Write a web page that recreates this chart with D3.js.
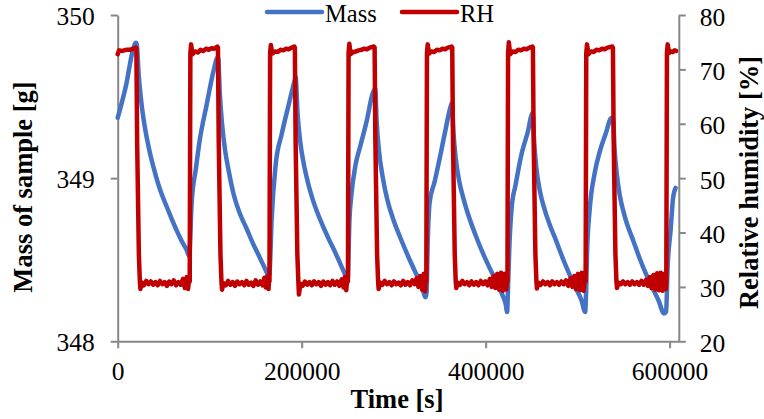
<!DOCTYPE html>
<html><head><meta charset="utf-8">
<script src="https://cdn.jsdelivr.net/npm/d3@7"></script>
<style>body{margin:0;background:#fff} svg{display:block}</style>
</head><body><svg id="c" width="764" height="419"></svg>
<script>
// ---------- data (time [s], value) ----------
const massPoints = [
[0,349.37],[9500,349.58],[16300,349.78],[19800,349.83],
[20700,349.82],[23000,349.62],[26000,349.45],[29300,349.32],[34800,349.16],[40200,349.04],[46000,348.93],[52200,348.84],
[58000,348.76],[64100,348.68],[70000,348.61],[75000,348.56],[78000,348.52],
[78300,348.55],[80400,348.85],[84800,349.05],[89100,349.23],[96700,349.45],[104300,349.66],[108700,349.74],
[109200,349.74],[111000,349.52],[113500,349.33],[116500,349.18],[120500,349.05],[126100,348.90],[133000,348.78],[140200,348.69],
[147000,348.60],[152200,348.54],[159800,348.45],[164700,348.40],
[165200,348.43],[167400,348.75],[171700,349.08],[178300,349.27],[185900,349.45],[192400,349.60],
[193400,349.62],[195500,349.40],[198500,349.22],[202200,349.09],[206500,348.98],[212000,348.87],[222800,348.71],[230000,348.62],
[236900,348.54],[245600,348.43],[250000,348.38],
[252000,348.75],[254100,348.90],[258500,349.08],[263900,349.20],[270700,349.35],[277200,349.52],
[279900,349.55],[281500,349.35],[284000,349.17],[288000,349.01],[293000,348.87],[300000,348.74],[307600,348.63],[317400,348.50],
[323900,348.42],[330400,348.34],[334800,348.27],
[335800,348.30],[337000,348.60],[339100,348.85],[344600,348.98],[351100,349.15],[356500,349.30],[362500,349.45],
[363300,349.46],[365000,349.28],[367500,349.12],[371000,348.99],[376100,348.87],[382000,348.76],[389100,348.65],[397000,348.54],
[404300,348.45],[413000,348.35],[418500,348.28],[421700,348.23],[423400,348.18],
[424200,348.30],[425600,348.55],[428300,348.82],[432600,348.96],[439100,349.15],[445700,349.28],
[451100,349.40],[452800,349.22],[455000,349.07],[459000,348.92],[464000,348.81],[470000,348.71],[475000,348.64],[485900,348.48],
[496700,348.34],[504300,348.25],[508200,348.18],
[509200,348.30],[510300,348.55],[513000,348.80],[518500,349.03],[523900,349.16],[530400,349.27],[537000,349.37],
[538600,349.36],[540200,349.18],[542500,349.03],[546000,348.89],[551000,348.77],[560900,348.61],[568000,348.50],[576100,348.39],
[588000,348.25],[594000,348.17],
[596200,348.18],[597800,348.45],[601100,348.68],[603800,348.88],[606500,348.94]
];
const rhPoints = [
[0,72.8],[1500,73.5],[5000,73.4],[9000,73.6],[13000,73.6],[17000,73.8],[20000,74.0],
[20300,73.8],[21100,57],[23000,36],[24100,31.0],[24700,29.6],[26200,30.8],
[28500,30.3],[31000,31.1],[33500,30.5],[36000,31.0],[38500,30.4],[41000,30.9],[43500,30.3],[46000,31.1],[48500,30.5],[51000,30.9],
[53500,30.2],[56000,31.0],[58500,30.5],[61000,31.2],[63500,30.3],[66000,30.9],[68500,30.4],[71000,31.5],[73000,29.8],[75000,31.8],
[76500,29.6],[77600,31.6],
[78300,31.0],[79000,73.0],[79800,74.6],[81300,72.8],[84000,73.3],[87000,73.1],[90000,73.6],[93000,73.4],[96000,73.8],[99000,73.6],
[102000,73.9],[105000,73.8],[108300,74.2],[109000,74.0],
[109800,57],[111700,36],[112800,31.0],[113400,29.5],[115000,30.7],[117500,30.3],[120000,31.1],[122500,30.4],[125000,30.9],[127500,30.2],
[130000,31.0],[132500,30.5],[135000,30.9],[137500,30.3],[140000,31.1],[142500,30.4],[145000,30.8],[147500,30.2],[150000,31.2],[152500,30.4],
[155000,31.0],[157500,30.3],[159500,31.7],[161000,29.9],[162500,31.9],[164000,29.6],[164600,31.5],
[165000,31.0],[165700,73.0],[166500,74.5],[168000,72.9],[171000,73.3],[174000,73.2],[177000,73.6],[180000,73.5],[183000,73.8],
[186000,73.7],[189000,74.0],[192000,74.2],[192600,74.0],
[193400,57],[195300,36],[196400,31.0],[197000,28.6],[198600,30.6],[201000,30.2],[203500,31.0],[206000,30.4],[208500,30.9],[211000,30.3],
[213500,31.0],[216000,30.5],[218500,30.9],[221000,30.2],[223500,31.0],[226000,30.4],[228500,30.9],[231000,30.3],[233500,31.1],[236000,30.4],
[238500,31.0],[241000,30.2],[243500,31.4],[245500,29.9],[247000,31.8],[248500,29.4],[249600,31.6],
[250300,31.0],[251000,73.0],[251800,74.7],[253300,72.8],[256000,73.2],[259000,73.3],[262000,73.5],[265000,73.6],[268000,73.8],
[271000,73.7],[274000,74.0],[278500,74.2],[279300,74.0],
[280100,57],[282000,36],[283100,31.0],[283700,29.6],[285300,30.8],[287800,30.4],[290300,31.1],[292800,30.5],[295300,30.9],[297800,30.3],
[300300,31.0],[302800,30.5],[305300,30.8],[307800,30.3],[310300,31.1],[312800,30.4],[315300,30.9],[317800,30.3],[320300,31.2],[322800,30.5],
[325000,31.6],[327000,30.0],[329000,32.0],[331000,29.5],[332800,32.4],[334200,29.2],[335000,31.8],
[335500,31.0],[336200,73.0],[337000,74.6],[338500,72.9],[341000,73.3],[344000,73.2],[347000,73.6],[350000,73.5],[353000,73.8],
[356000,73.7],[359000,74.0],[363000,74.2],[363700,74.0],
[364500,57],[366400,36],[367500,31.0],[368100,29.8],[369700,30.8],[372200,30.4],[374700,31.1],[377200,30.5],[379700,30.9],[382200,30.3],
[384700,31.0],[387200,30.4],[389700,30.9],[392200,30.3],[394700,31.1],[397200,30.5],[399700,31.0],[402200,30.3],[404700,31.5],[406700,30.0],
[408700,32.0],[410700,29.8],[412700,32.4],[414700,29.5],[416700,32.6],[418700,29.3],[420700,32.4],[422500,29.5],[423300,31.5],
[423700,31.0],[424400,73.0],[425200,75.0],[426700,72.8],[429500,73.3],[432500,73.2],[435500,73.6],[438500,73.5],[441500,73.8],
[444500,73.7],[447500,74.0],[450800,74.2],[451400,74.0],
[452200,57],[454100,36],[455200,31.0],[455800,29.7],[457400,30.8],[459900,30.4],[462400,31.0],[464900,30.5],[467400,30.9],[469900,30.3],
[472400,31.0],[474900,30.5],[477400,30.9],[479900,30.4],[482400,31.0],[484900,30.5],[487400,31.2],[489900,30.2],[492400,31.6],[494400,30.0],
[496400,32.0],[498400,29.6],[500400,32.4],[502400,29.4],[504400,32.6],[506400,29.3],[508000,32.0],
[508700,31.0],[509400,73.0],[510200,74.6],[511700,72.8],[514500,73.3],[517500,73.2],[520500,73.6],[523500,73.5],[526500,73.8],
[529500,73.7],[532500,74.0],[537700,74.2],[538400,74.0],
[539200,57],[541100,36],[542200,31.0],[542800,29.8],[544400,30.8],[546900,30.5],[549400,31.0],[551900,30.5],[554400,30.9],[556900,30.4],
[559400,31.0],[561900,30.5],[564400,30.9],[566900,30.4],[569400,31.1],[571900,30.4],[574400,31.3],[576400,30.2],[578400,31.8],[580400,29.8],
[582400,32.2],[584400,29.5],[586400,32.5],[588400,29.4],[590400,32.6],[592400,29.3],[594400,32.4],[595800,29.6],
[596400,31.0],[597100,73.0],[597900,74.6],[599400,73.0],[601500,73.3],[603500,73.2],[605500,73.5],[607000,73.4]
];
const xTicks = [0, 200000, 400000, 600000];
const massTicks = [348, 349, 350];
const rhTicks = [20, 30, 40, 50, 60, 70, 80];
const seriesNames = ["Mass", "RH"];
const seriesColors = ["#4472C4", "#C00000"];
const xTitle = "Time [s]", yLeftTitle = "Mass of sample [g]", yRightTitle = "Relative humidity [%]";

// ---------- drawing ----------
const svg = d3.select("#c");
const FONT = "'Liberation Serif','Times New Roman',serif";
const AXC = "#878787";
const x = d3.scaleLinear().domain([0, 610000]).range([117.7, 678.8]);
const yL = d3.scaleLinear().domain([348, 350]).range([341.3, 15]);
const yR = d3.scaleLinear().domain([20, 80]).range([341.3, 15]);

function styleAxis(g) {
  g.selectAll("path.domain").attr("stroke", AXC).attr("stroke-width", 2);
  g.selectAll(".tick line").attr("stroke", AXC).attr("stroke-width", 2);
  g.selectAll(".tick text").attr("fill", "#000").style("font-family", FONT).style("font-size", "25.5px");
}

const gx = svg.append("g").attr("transform", `translate(0,${yL.range()[0]})`)
  .call(d3.axisBottom(x).tickValues(xTicks).tickFormat(d3.format("d")).tickSize(7).tickSizeOuter(0));
styleAxis(gx);
gx.selectAll(".tick text").attr("dy", null).attr("y", 39);

const gl = svg.append("g").attr("transform", `translate(${x.range()[0]},0)`)
  .call(d3.axisLeft(yL).tickValues(massTicks).tickFormat(d3.format("d")).tickSize(7).tickPadding(16).tickSizeOuter(0));
styleAxis(gl);
gl.selectAll(".tick text").attr("dy", 9.5);

const gr = svg.append("g").attr("transform", `translate(${x.range()[1]},0)`)
  .call(d3.axisRight(yR).tickValues(rhTicks).tickFormat(d3.format("d")).tickSize(7).tickPadding(14).tickSizeOuter(0));
styleAxis(gr);
gr.selectAll(".tick text").attr("dy", 10);

const lineMass = d3.line().curve(d3.curveMonotoneX).x(d => x(d[0])).y(d => yL(d[1]));
const lineRH = d3.line().x(d => x(d[0])).y(d => yR(d[1]));
svg.append("path").datum(massPoints).attr("d", lineMass)
  .attr("fill", "none").attr("stroke", seriesColors[0]).attr("stroke-width", 4.5)
  .attr("stroke-linejoin", "round").attr("stroke-linecap", "round");
svg.append("path").datum(rhPoints).attr("d", lineRH)
  .attr("fill", "none").attr("stroke", seriesColors[1]).attr("stroke-width", 4.5)
  .attr("stroke-linejoin", "round").attr("stroke-linecap", "round");

// titles
svg.append("text").attr("x", 397).attr("y", 408).attr("text-anchor", "middle")
  .style("font-family", FONT).style("font-size", "26.5px").style("font-weight", "bold").text(xTitle);
svg.append("text").attr("transform", "translate(32,187) rotate(-90)").attr("text-anchor", "middle")
  .style("font-family", FONT).style("font-size", "26.5px").style("font-weight", "bold").text(yLeftTitle);
svg.append("text").attr("transform", "translate(758,182.5) rotate(-90)").attr("text-anchor", "middle")
  .style("font-family", FONT).style("font-size", "26.5px").style("font-weight", "bold").text(yRightTitle);

// legend
const legX = [267, 402];
seriesNames.forEach((n, i) => {
  svg.append("line").attr("x1", legX[i]).attr("x2", legX[i] + 55).attr("y1", 12).attr("y2", 12)
    .attr("stroke", seriesColors[i]).attr("stroke-width", 4.5).attr("stroke-linecap", "round");
  svg.append("text").attr("x", legX[i] + 58).attr("y", 21.5)
    .style("font-family", FONT).style("font-size", "24.5px").text(n);
});
</script></body></html>
